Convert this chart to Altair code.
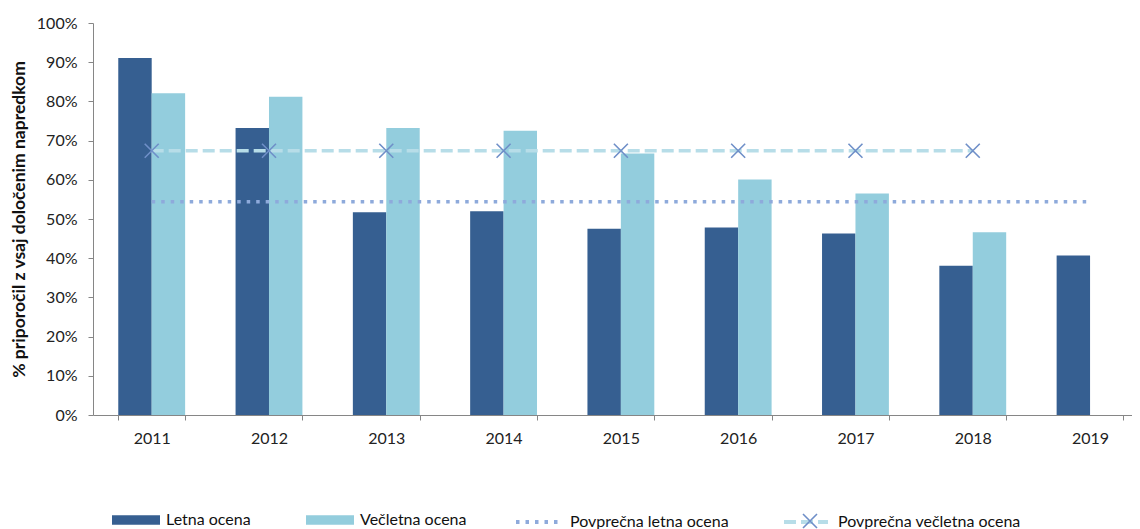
import altair as alt
import pandas as pd

years = ["2011", "2012", "2013", "2014", "2015", "2016", "2017", "2018", "2019"]
letna = [0.911, 0.732, 0.517, 0.520, 0.475, 0.478, 0.463, 0.381, 0.407]
vecletna = [0.821, 0.812, 0.732, 0.725, 0.667, 0.601, 0.565, 0.466, None]
avg_letna = 0.544
avg_vecletna = 0.674
y_ticks = [0.0, 0.1, 0.2, 0.3, 0.4, 0.5, 0.6, 0.7, 0.8, 0.9, 1.0]

bar_series = ["Letna ocena", "Večletna ocena"]
bar_colors = ["#365f91", "#93cddd"]
line_series = ["Povprečna letna ocena", "Povprečna večletna ocena"]
line_colors = ["#8eaadb", "#b7dde8"]
marker_color = "#6f8fc8"
x_shape = "M-1,-1L1,1M-1,1L1,-1"

rows = []
for y, a, b in zip(years, letna, vecletna):
    rows.append({"year": y, "series": bar_series[0], "value": a})
    if b is not None:
        rows.append({"year": y, "series": bar_series[1], "value": b})
bars_df = pd.DataFrame(rows)

lrows = []
for y in years:
    lrows.append({"year": y, "lseries": line_series[0], "value": avg_letna})
for y, b in zip(years, vecletna):
    if b is not None:
        lrows.append({"year": y, "lseries": line_series[1], "value": avg_vecletna})
lines_df = pd.DataFrame(lrows)
marks_df = lines_df[lines_df["lseries"] == line_series[1]]

FONT = "Lato"
AX = "#868686"

x_enc = alt.X(
    "year:N",
    sort=years,
    scale=alt.Scale(paddingInner=0.43, paddingOuter=0.144, align=0.748),
    axis=alt.Axis(
        title=None, labelAngle=0, tickBand="extent", tickSize=5, domainColor=AX,
        tickColor=AX, labelFont=FONT, labelFontSize=16, labelColor="#222222",
        labelPadding=10, grid=False,
    ),
)
y_enc = alt.Y(
    "value:Q",
    scale=alt.Scale(domain=[0, 1], nice=False),
    axis=alt.Axis(
        title="% priporočil z vsaj določenim napredkom", format=".0%",
        values=y_ticks, tickCount=12, grid=False, tickSize=5,
        labelOverlap=False,
        domainColor=AX, tickColor=AX, labelFont=FONT, labelFontSize=16,
        labelColor="#222222", labelPadding=11, titleFont=FONT, titleFontSize=17.5,
        titleFontWeight="bold", titleColor="#111111", titlePadding=8,
    ),
)

bar_legend = alt.Legend(
    orient="none", legendX=19, legendY=473, direction="horizontal",
    title=None, symbolType="M-1,-0.2H1V0.2H-1Z", symbolSize=2304,
    symbolStrokeWidth=0, labelFont=FONT, labelFontSize=16,
    labelColor="#111111", columnPadding=55, labelOffset=6, labelLimit=300,
)
line_legend = alt.Legend(
    orient="none", legendX=421, legendY=475, direction="horizontal",
    title=None, symbolType="stroke", symbolSize=1936,
    symbolStrokeWidth=4, labelFont=FONT, labelFontSize=16,
    labelColor="#111111", columnPadding=47, labelOffset=8, labelLimit=300,
)
marker_legend = alt.Legend(
    orient="none", legendX=709, legendY=490, direction="horizontal",
    title=None, symbolSize=196, symbolStrokeColor=marker_color,
    symbolFillColor="transparent", symbolStrokeWidth=1.6,
    labelExpr="''", labelFontSize=1, labelOffset=0, labelLimit=1,
)

bars = alt.Chart(bars_df).mark_bar().encode(
    x=x_enc,
    y=y_enc,
    xOffset=alt.XOffset("series:N", sort=bar_series, scale=alt.Scale(paddingInner=0, paddingOuter=0)),
    color=alt.Color(
        "series:N",
        scale=alt.Scale(domain=bar_series, range=bar_colors),
        legend=bar_legend,
    ),
)

lines = alt.Chart(lines_df).mark_line().encode(
    x=x_enc,
    y=y_enc,
    color=alt.Color(
        "lseries:N",
        scale=alt.Scale(domain=line_series, range=line_colors),
        legend=line_legend,
    ),
    strokeDash=alt.StrokeDash(
        "lseries:N",
        scale=alt.Scale(domain=line_series, range=[[3.5, 6], [12, 5]]),
        legend=line_legend,
    ),
    strokeWidth=alt.value(3.5),
)

markers = alt.Chart(marks_df).mark_point(
    filled=False, strokeWidth=1.6, size=196,
    color=marker_color, opacity=1,
).encode(
    x=x_enc,
    y=y_enc,
    shape=alt.Shape(
        "lseries:N",
        scale=alt.Scale(domain=[line_series[1]], range=[x_shape]),
        legend=marker_legend,
    ),
)

chart = (
    alt.layer(bars, lines, markers)
    .resolve_scale(color="independent", strokeDash="independent", shape="independent")
    .properties(
        width=1039, height=392,
        autosize=alt.AutoSizeParams(type="none"),
        padding={"left": 85, "top": 15, "right": 0, "bottom": 114},
    )
    .configure_view(stroke=None)
)

chart.save("out.html", embed_options={"renderer": "svg", "actions": False})
